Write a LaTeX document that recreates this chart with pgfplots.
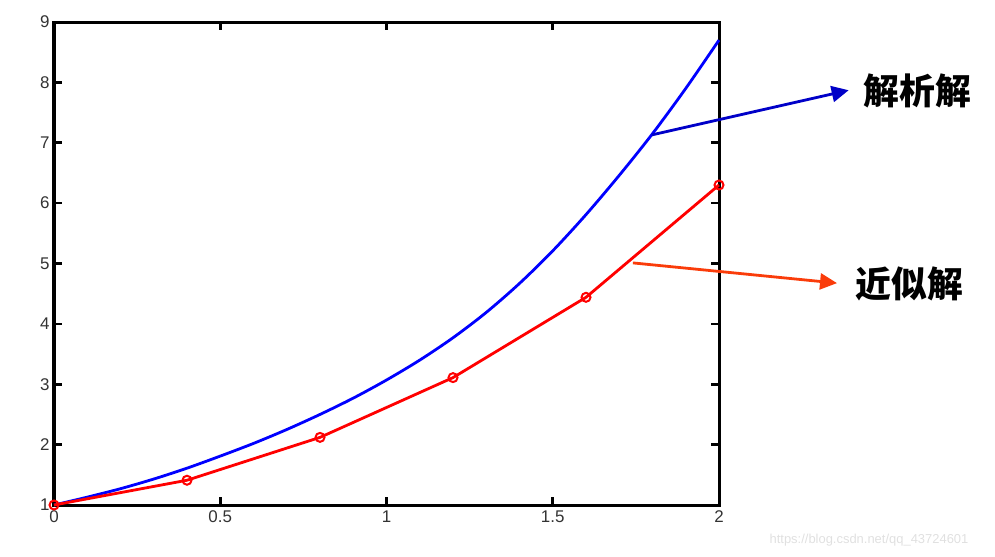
\documentclass[border=0pt]{standalone}
\usepackage{pgfplots}
\pgfplotsset{compat=1.18}
\usepackage{fontspec}
\setmainfont{Liberation Sans}
\newfontfamily\cjk{Noto Sans CJK SC}
\usetikzlibrary{arrows.meta}
\definecolor{myblue}{RGB}{0,0,255}
\definecolor{arrowblue}{RGB}{0,0,200}
\definecolor{myred}{RGB}{255,0,0}
\definecolor{arrowred}{RGB}{250,60,10}
\begin{document}
\begin{tikzpicture}
\begin{axis}[
  at={(0,0)}, anchor=south west,
  width=665bp, height=483bp, scale only axis,
  xmin=0, xmax=2, ymin=1, ymax=9,
  xtick={0,0.5,1,1.5,2}, ytick={1,2,...,9},
  xticklabels={0,0.5,1,1.5,2},
  tick align=inside, major tick length=8bp,
  tick style={line width=2.6bp, black},
  axis line style={line width=3bp, black},
  ticklabel style={font=\fontsize{17}{20}\selectfont, text=black!80},
  /pgf/number format/assume math mode=true,
  xticklabel style={yshift=-2bp},
  yticklabel style={xshift=-1bp},
  clip=false,
]
\addplot[myblue, line width=2.8bp, smooth] coordinates {
(0.0,1.00) (0.1,1.13) (0.2,1.27) (0.3,1.43) (0.4,1.61) (0.5,1.81)
(0.6,2.02) (0.7,2.25) (0.8,2.50) (0.9,2.77) (1.0,3.07) (1.1,3.40)
(1.2,3.77) (1.3,4.19) (1.4,4.67) (1.5,5.21) (1.6,5.81) (1.7,6.46)
(1.8,7.15) (1.9,7.90) (2.0,8.70)};
\addplot[myred, line width=2.8bp, mark=o, mark size=4.5bp, mark options={line width=2bp}] coordinates {
(0.0,1.00) (0.4,1.41) (0.8,2.12) (1.2,3.11) (1.6,4.44) (2.0,6.30)};
\draw[arrowblue, line width=2.8bp, -{Triangle[length=17bp,width=16bp]}] (axis cs:1.798,7.13) -- (axis cs:2.39,7.87);
\draw[arrowred, line width=2.8bp, -{Triangle[length=17bp,width=16bp]}] (axis cs:1.741,5.01) -- (axis cs:2.355,4.675);
\node[font=\cjk\fontsize{36}{40}\selectfont\bfseries, anchor=center] at (axis cs:2.596,7.86) {解析解};
\node[font=\cjk\fontsize{36}{40}\selectfont\bfseries, anchor=center] at (axis cs:2.572,4.66) {近似解};
\end{axis}
\node[font=\fontsize{13}{15}\selectfont, text=black!12] at (815bp,-35bp) {https://blog.csdn.net/qq\_43724601};
\path (-54bp,-52bp) rectangle (941bp,505bp);
\end{tikzpicture}
\end{document}
